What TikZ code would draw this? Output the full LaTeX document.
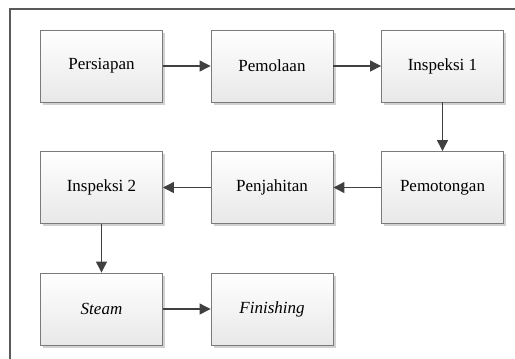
\documentclass[tikz,border=0pt]{standalone}
\usepackage{fontspec}
\setmainfont{Liberation Serif}
\usetikzlibrary{arrows.meta,shadows}
\definecolor{linec}{HTML}{404040}
\definecolor{boxline}{HTML}{7A7A7A}
\definecolor{framec}{HTML}{5A5A5A}
\tikzset{
  procbox/.style={draw=boxline, line width=0.9bp, top color=white, bottom color=black!9,
    minimum width=122bp, minimum height=72bp, inner sep=0pt,
    font=\fontsize{17bp}{20bp}\selectfont,
    drop shadow={shadow xshift=2.5bp, shadow yshift=-2.5bp, fill=black!18, opacity=1}},
  flow/.style={draw=linec, line width=1.2bp, -{Triangle[length=11bp,width=11bp]}, color=linec}
}
\begin{document}
\begin{tikzpicture}[x=1bp,y=-1bp]
\useasboundingbox (0,0) rectangle (515,358);
\fill[white] (0,0) rectangle (515,358);
\draw[framec, line width=1.3bp] (10,360) -- (10,9) -- (516,9);
\node[procbox] (a) at (101.5,66) {Persiapan};
\node[procbox] (b) at (272,66) {Pemolaan};
\node[procbox] (c) at (442.5,66) {Inspeksi 1};
\node[procbox] (d) at (442.5,187.5) {Pemotongan};
\node[procbox] (e) at (272,187.5) {Penjahitan};
\node[procbox] (f) at (101.5,187.5) {Inspeksi 2};
\node[procbox] (g) at (101.5,309) {\textit{Steam}};
\node[procbox] (h) at (272,309) {\textit{Finishing}};
\draw[flow] (a) -- (b);
\draw[flow] (b) -- (c);
\draw[flow] (c) -- (d);
\draw[flow] (d) -- (e);
\draw[flow] (e) -- (f);
\draw[flow] (f) -- (g);
\draw[flow] (g) -- (h);
\end{tikzpicture}
\end{document}
